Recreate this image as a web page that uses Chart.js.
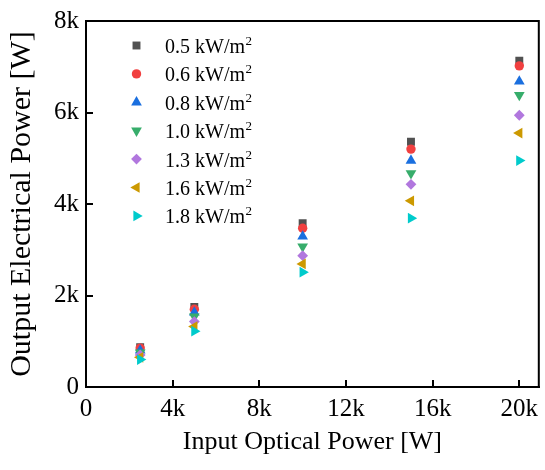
<!DOCTYPE html>
<html>
<head>
<meta charset="utf-8">
<script src="https://cdn.jsdelivr.net/npm/chart.js@4.4.0/dist/chart.umd.min.js"></script>
<style>
  html, body { margin: 0; padding: 0; background: #fff; }
</style>
</head>
<body>
<canvas id="scatter" width="545" height="470"></canvas>
<script>
// data
const irradiance = ['0.5', '0.6', '0.8', '1.0', '1.3', '1.6', '1.8'];
const inputPower = [2500, 5000, 10000, 15000, 20000];
const out05 = [870, 1750, 3580, 5360, 7130];
const out06 = [850, 1700, 3470, 5200, 7020];
const out08 = [800, 1630, 3290, 4950, 6680];
const out10 = [750, 1540, 3070, 4670, 6380];
const out13 = [700, 1430, 2870, 4430, 5940];
const out16 = [650, 1320, 2690, 4070, 5550];
const out18 = [600, 1220, 2510, 3690, 4950];
const xTicks = [0, 4000, 8000, 12000, 16000, 20000];
const yTicks = [0, 2000, 4000, 6000, 8000];

const series = [out05, out06, out08, out10, out13, out16, out18];

// marker styles (Origin-like palette)
const colors = ['#515151', '#F14040', '#1A6FDF', '#37AD6B', '#B177DE', '#CC9900', '#00CBCC'];
const shapes = ['rect', 'circle', 'triangle', 'triangle', 'rectRot', 'triangle', 'triangle'];
const turns = [0, 0, 0, 180, 0, -90, 90];
const sizes = [5.6, 4.7, 6.2, 6.2, 5.4, 6.2, 6.2];

const serif = '"Liberation Serif", "Times New Roman", serif';
Chart.defaults.font.family = serif;
Chart.defaults.color = '#000';

const kLabel = v => v === 0 ? '0' : (v / 1000) + 'k';

// legend drawn inside the plot, top-left
const innerLegend = {
  id: 'innerLegend',
  afterDatasetsDraw(chart) {
    const ctx = chart.ctx;
    const area = chart.chartArea;
    ctx.save();
    chart.data.datasets.forEach((ds, i) => {
      const y = area.top + 24.5 + i * 28.4;
      const mx = area.left + 50.5;
      ctx.fillStyle = ds.backgroundColor;
      Chart.helpers.drawPoint(ctx, {
        pointStyle: ds.pointStyle,
        rotation: ds.pointRotation,
        radius: ds.pointRadius,
        borderWidth: 0
      }, mx, y);
      ctx.fillStyle = '#000';
      ctx.textBaseline = 'alphabetic';
      ctx.textAlign = 'left';
      ctx.font = '20px ' + serif;
      const txt = irradiance[i] + ' kW/m';
      const tx = area.left + 79;
      ctx.fillText(txt, tx, y + 7.5);
      const w = ctx.measureText(txt).width;
      ctx.font = '13px ' + serif;
      ctx.fillText('2', tx + w + 0.5, y - 0.5);
    });
    ctx.restore();
  }
};

// top and right edges of the frame
const frame = {
  id: 'frame',
  afterDraw(chart) {
    const {ctx, chartArea: a} = chart;
    ctx.save();
    ctx.strokeStyle = '#000';
    ctx.lineWidth = 2;
    ctx.beginPath();
    ctx.moveTo(a.left - 1, a.top);
    ctx.lineTo(a.right, a.top);
    ctx.lineTo(a.right, a.bottom + 1);
    ctx.stroke();
    ctx.restore();
  }
};

const datasets = series.map((vals, i) => ({
  label: irradiance[i] + ' kW/m²',
  data: vals.map((v, j) => ({x: inputPower[j], y: v})),
  backgroundColor: colors[i],
  borderColor: colors[i],
  pointStyle: shapes[i],
  pointRotation: turns[i],
  pointRadius: sizes[i],
  pointHoverRadius: sizes[i],
  pointBorderWidth: 0,
  order: series.length - i
}));

const scatter = new Chart(document.getElementById('scatter'), {
  type: 'scatter',
  data: { datasets },
  options: {
    responsive: false,
    animation: false,
    devicePixelRatio: 1,
    layout: { padding: { top: 21, right: 5, left: 0, bottom: 0 } },
    plugins: { legend: { display: false }, tooltip: { enabled: false } },
    scales: {
      x: {
        type: 'linear',
        min: 0,
        max: 20900,
        afterBuildTicks: s => { s.ticks = xTicks.map(v => ({value: v})); },
        afterFit: s => { s.height = 83; s.paddingLeft = 0; s.paddingRight = 0; },
        grid: { drawOnChartArea: false, color: '#000', lineWidth: 2, tickLength: -7 },
        border: { display: true, color: '#000', width: 2 },
        ticks: { font: { size: 25 }, padding: 14, maxRotation: 0, callback: kLabel },
        title: { display: true, text: 'Input Optical Power [W]', font: { size: 26 }, padding: { top: 0, bottom: 12 } }
      },
      y: {
        type: 'linear',
        min: 0,
        max: 8000,
        afterBuildTicks: s => { s.ticks = yTicks.map(v => ({value: v})); },
        afterFit: s => { s.width = 86; s.paddingTop = 0; s.paddingBottom = 0; },
        grid: { drawOnChartArea: false, color: '#000', lineWidth: 2, tickLength: -7 },
        border: { display: true, color: '#000', width: 2 },
        ticks: { font: { size: 25 }, padding: 14, callback: kLabel },
        title: { display: true, text: 'Output Electrical Power [W]', font: { size: 30 }, padding: { top: 4, bottom: 0 } }
      }
    }
  },
  plugins: [innerLegend, frame]
});
</script>
</body>
</html>
